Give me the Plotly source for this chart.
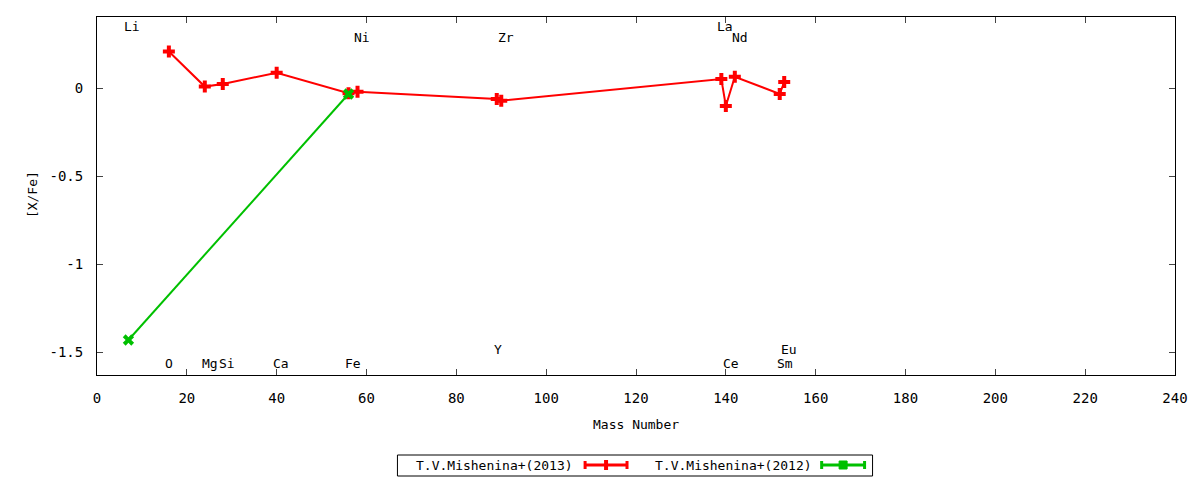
import plotly.graph_objs as go

# [X/Fe] vs mass number
mass_2013 = [16, 24, 28, 40, 56, 58, 89, 90, 139, 140, 142, 152, 153]
xfe_2013 = [0.207, 0.008, 0.023, 0.087, -0.03, -0.021, -0.062, -0.072,
            0.051, -0.102, 0.064, -0.034, 0.034]

mass_2012 = [7, 56]
xfe_2012 = [-1.432, -0.034]

# element labels (x, y, text)
label_x = [7.9, 16.1, 25.1, 29.0, 41.0, 57.1, 59.0, 91.1, 89.3, 139.9, 143.1, 141.1, 153.1, 154.0]
label_y = [0.348, -1.564, -1.564, -1.564, -1.564, -1.564, 0.288, 0.288, -1.483, 0.349, 0.288, -1.564, -1.564, -1.483]
label_txt = ['Li', 'O', 'Mg', 'Si', 'Ca', 'Fe', 'Ni', 'Zr', 'Y', 'La', 'Nd', 'Ce', 'Sm', 'Eu']

x_ticks = list(range(0, 241, 20))
y_ticks = [0, -0.5, -1, -1.5]
y_ticklabels = ['0', '-0.5', '-1', '-1.5']

RED = '#ff0000'
GREEN = '#00c000'
FONT = 'DejaVu Sans Mono'
FS = 14      # tick labels, axis titles
FS_TXT = 13  # element labels, legend

# plot area in pixels
L, R, T, B = 97, 1177, 17, 375


def px(x):
    return (x - L) / (R - L)


def py(y):
    return (B - y) / (B - T)


fig = go.Figure()

fig.add_trace(go.Scatter(
    x=mass_2013, y=xfe_2013, mode='lines+markers', name='T.V.Mishenina+(2013)',
    line=dict(color=RED, width=2),
    marker=dict(symbol='cross', size=10, color=RED),
    cliponaxis=False, showlegend=False))

fig.add_trace(go.Scatter(
    x=mass_2012, y=xfe_2012, mode='lines+markers', name='T.V.Mishenina+(2012)',
    line=dict(color=GREEN, width=2),
    marker=dict(symbol='x', size=10, color=GREEN),
    cliponaxis=False, showlegend=False))

annotations = []
for lx, ly, lt in zip(label_x, label_y, label_txt):
    annotations.append(dict(x=lx, y=ly, text=lt, showarrow=False,
                            font=dict(family=FONT, size=FS_TXT, color='black'),
                            xanchor='center', yanchor='middle'))

# axis titles
annotations.append(dict(x=0.5, y=py(425), xref='paper', yref='paper', text='Mass Number',
                        showarrow=False, font=dict(family=FONT, size=FS_TXT, color='black'),
                        xanchor='center', yanchor='middle'))
annotations.append(dict(x=px(32), y=py(195), xref='paper', yref='paper', text='[X/Fe]',
                        showarrow=False, textangle=-90,
                        font=dict(family=FONT, size=FS_TXT, color='black'),
                        xanchor='center', yanchor='middle'))

# gnuplot style legend, text first then sample
shapes = []
shapes.append(dict(type='rect', xref='paper', yref='paper',
                   x0=px(398), x1=px(874), y0=py(476), y1=py(455),
                   line=dict(color='black', width=1), fillcolor='white', layer='below'))
ly = 465
entries = [('T.V.Mishenina+(2013)', 576, 586, 628, RED, 'cross'),
           ('T.V.Mishenina+(2012)', 815, 823, 866, GREEN, 'x')]
for txt, tx, s0, s1, col, sym in entries:
    annotations.append(dict(x=px(tx), y=py(ly), xref='paper', yref='paper', text=txt,
                            showarrow=False, font=dict(family=FONT, size=FS_TXT, color='black'),
                            xanchor='right', yanchor='middle'))
    shapes.append(dict(type='line', xref='paper', yref='paper',
                       x0=px(s0), x1=px(s1), y0=py(ly), y1=py(ly),
                       line=dict(color=col, width=3)))
    for sx in (s0, s1):
        shapes.append(dict(type='line', xref='paper', yref='paper',
                           x0=px(sx), x1=px(sx), y0=py(ly - 4), y1=py(ly + 4),
                           line=dict(color=col, width=3)))
    c = (s0 + s1) / 2
    if sym == 'cross':
        shapes.append(dict(type='line', xref='paper', yref='paper',
                           x0=px(c), x1=px(c), y0=py(ly - 5), y1=py(ly + 5),
                           line=dict(color=col, width=4)))
    else:
        shapes.append(dict(type='rect', xref='paper', yref='paper',
                           x0=px(c - 4), x1=px(c + 4), y0=py(ly + 4), y1=py(ly - 4),
                           line=dict(color=col, width=1), fillcolor=col))

fig.update_layout(
    width=1200, height=480,
    margin=dict(l=L, r=1200 - R, t=T, b=480 - B),
    plot_bgcolor='white', paper_bgcolor='white',
    font=dict(family=FONT, size=FS, color='black'),
    showlegend=False,
    annotations=annotations,
    shapes=shapes,
    xaxis=dict(
        range=[0, 240], tickvals=x_ticks, ticks='inside', ticklen=6,
        showline=True, linecolor='black', linewidth=1, mirror='ticks',
        showgrid=False, zeroline=False, ticklabelstandoff=10,
        tickfont=dict(family=FONT, size=FS, color='black'),
    ),
    yaxis=dict(
        range=[-1.6307, 0.4034], tickvals=y_ticks, ticktext=y_ticklabels,
        ticks='inside', ticklen=6,
        showline=True, linecolor='black', linewidth=1, mirror='ticks',
        showgrid=False, zeroline=False, ticklabelstandoff=10,
        tickfont=dict(family=FONT, size=FS, color='black'),
    ),
)

# page body has a default 8px margin; drop it so the figure fills the window
fig.write_html("out.html", config={'displayModeBar': False},
               post_script="document.body.style.margin='0';document.body.style.overflow='hidden';")
